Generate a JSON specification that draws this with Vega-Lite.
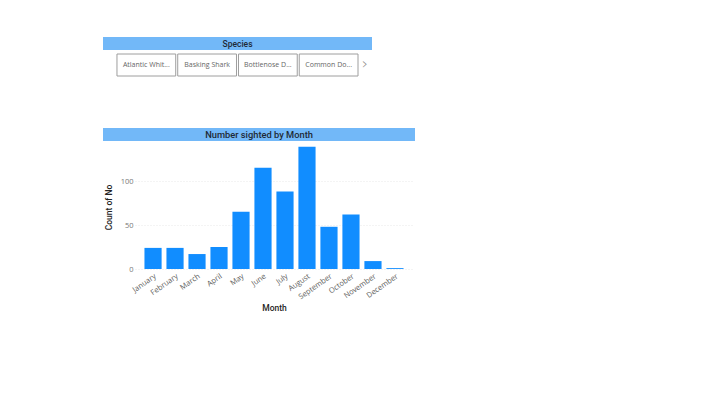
{
  "$schema": "https://vega.github.io/schema/vega-lite/v6.json",
  "background": "white",
  "padding": {"left": 103, "top": 37, "right": 0, "bottom": 0},
  "config": {"view": {"stroke": null}, "font": "Open Sans"},
  "datasets": {
    "species": [
      {"name": "Atlantic White-sided Dolphin"},
      {"name": "Basking Shark"},
      {"name": "Bottlenose Dolphin"},
      {"name": "Common Dolphin"}
    ],
    "months": [
      {"month": "January", "count": 24},
      {"month": "February", "count": 24},
      {"month": "March", "count": 17},
      {"month": "April", "count": 25},
      {"month": "May", "count": 65},
      {"month": "June", "count": 115},
      {"month": "July", "count": 88},
      {"month": "August", "count": 139},
      {"month": "September", "count": 48},
      {"month": "October", "count": 62},
      {"month": "November", "count": 9},
      {"month": "December", "count": 1}
    ]
  },
  "spacing": 51,
  "vconcat": [
    {
      "spacing": 3,
      "vconcat": [
        {
          "width": 269,
          "height": 13,
          "data": {"values": [{"title": "Species"}]},
          "layer": [
            {"mark": {"type": "rect", "color": "#72B8F8"}, "encoding": {}},
            {"mark": {"type": "text", "font": "Roboto", "fontWeight": 500, "fontSize": 8.5, "color": "#1F2A36"}, "encoding": {"text": {"field": "title"}}}
          ]
        },
        {
          "width": 255,
          "height": 22,
          "data": {"name": "species"},
          "encoding": {
            "x": {"field": "name", "type": "nominal", "axis": null,
                  "scale": {"paddingInner": 0.033, "paddingOuter": 0.115, "align": 1}}
          },
          "layer": [
            {"mark": {"type": "rect", "fill": "white", "stroke": "#9E9E9E", "strokeWidth": 1}},
            {"mark": {"type": "text", "fontSize": 7, "color": "#666666", "limit": 48, "ellipsis": "..."}, "encoding": {"text": {"field": "name"}}},
            {"transform": [{"filter": "datum.name === 'Common Dolphin'"}],
             "mark": {"type": "text", "fontSize": 16, "color": "#8A8886", "dx": 7, "dy": -1, "font": "DejaVu Sans", "fontWeight": 200},
             "encoding": {"x": {"field": "name", "type": "nominal", "bandPosition": 1}, "text": {"value": "›"}}}
          ]
        }
      ]
    },
    {
      "spacing": 4,
      "center": true,
      "vconcat": [
        {
          "width": 342,
          "height": 13,
          "data": {"values": [{"title": "Number sighted by Month"}]},
          "encoding": {
            "x": {"field": "title", "type": "nominal", "axis": null,
                  "scale": {"paddingInner": 0, "paddingOuter": 0.048077, "align": 0}}
          },
          "layer": [
            {"mark": {"type": "rect", "color": "#72B8F8"}},
            {"mark": {"type": "text", "font": "Roboto", "fontWeight": 500, "fontSize": 9.3, "color": "#1F2A36"}, "encoding": {"text": {"field": "title"}}}
          ]
        },
        {
          "width": 278,
          "height": 124,
          "data": {"name": "months"},
          "mark": {"type": "bar", "color": "#118DFF"},
          "encoding": {
            "x": {
              "field": "month", "type": "ordinal",
              "sort": ["January","February","March","April","May","June","July","August","September","October","November","December"],
              "scale": {"paddingInner": 0.22, "paddingOuter": 0.43},
              "axis": {"labelAngle": -35, "ticks": false, "domain": false, "labelFontSize": 7.5, "labelColor": "#605E5C", "labelPadding": 3,
                       "title": "Month", "titleFontSize": 8.5, "titleFontWeight": 500, "titleColor": "#252423", "titlePadding": 3, "titleFont": "Roboto"}
            },
            "y": {
              "field": "count", "type": "quantitative",
              "scale": {"domain": [0, 141], "nice": false},
              "axis": {"values": [0, 50, 100], "grid": true, "gridColor": "#E8E8E8", "gridDash": [1, 2], "domain": false, "ticks": false,
                       "labelFontSize": 7.5, "labelColor": "#777777", "labelPadding": 2,
                       "title": "Count of No", "titleFontSize": 8.5, "titleFontWeight": 500, "titleColor": "#252423", "titlePadding": 7, "titleFont": "Roboto"}
            }
          }
        }
      ]
    }
  ]
}
